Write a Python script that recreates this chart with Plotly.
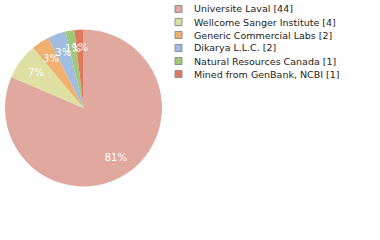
import plotly.graph_objects as go

labels = ["Universite Laval", "Wellcome Sanger Institute", "Generic Commercial Labs",
          "Dikarya L.L.C.", "Natural Resources Canada", "Mined from GenBank, NCBI"]
values = [44, 4, 2, 2, 1, 1]
colors = ["#e0a89e", "#dde0a0", "#f0b070", "#a0bce0", "#a0c878", "#e07860"]

total = sum(values)
pct_text = [f"{int(v * 100 // total)}%" for v in values]
big = [v / total > 0.5 for v in values]
text_big = [t if b else "" for t, b in zip(pct_text, big)]
text_small = [t if not b else "" for t, b in zip(pct_text, big)]

W, H = 380, 240
cx, cy, R = 83.5, 108, 78.5   # pie centre / radius in pixels
rt = 64                        # outer radius of the thin text ring

def dom(r):
    return dict(x=[(cx - r) / W, (cx + r) / W], y=[1 - (cy + r) / H, 1 - (cy - r) / H])

common = dict(labels=labels, values=values, sort=False, direction="clockwise",
              rotation=0, showlegend=False)
clear = dict(colors=["rgba(0,0,0,0)"] * len(values), line=dict(width=0))
tfont = dict(color="white", size=10, family="DejaVu Sans")

fig = go.Figure()
fig.add_trace(go.Pie(**common, textinfo="none",
                     marker=dict(colors=colors, line=dict(width=0)),
                     domain=dom(R), hoverinfo="label+value"))
# label ring for the large slice
fig.add_trace(go.Pie(**common, text=text_big, textinfo="text", hole=0.5,
                     marker=clear, textposition="inside",
                     insidetextorientation="horizontal", textfont=tfont,
                     domain=dom(R), hoverinfo="skip"))
# thin label ring for the small slices
fig.add_trace(go.Pie(**common, text=text_small, textinfo="text", hole=0.85,
                     marker=clear, textposition="inside",
                     insidetextorientation="horizontal", textfont=tfont,
                     domain=dom(rt), hoverinfo="skip"))

# legend built from the same lists
x0, y0, dy = 175, 9, 13
shapes, annots = [], []
for i, (lab, v, c) in enumerate(zip(labels, values, colors)):
    yc = y0 + i * dy
    shapes.append(dict(type="rect", xref="paper", yref="paper",
                       x0=x0/W, x1=(x0+7)/W, y0=1-(yc+3.5)/H, y1=1-(yc-3.5)/H,
                       fillcolor=c, line=dict(color="#909090", width=1)))
    annots.append(dict(xref="paper", yref="paper", x=192/W, y=1-yc/H,
                       xanchor="left", yanchor="middle", showarrow=False,
                       text=f"{lab} [{v}]",
                       font=dict(family="DejaVu Sans", size=9.5, color="#222222")))

fig.update_layout(width=W, height=H, margin=dict(l=0, r=0, t=0, b=0),
                  paper_bgcolor="white", plot_bgcolor="white",
                  shapes=shapes, annotations=annots,
                  uniformtext=dict(minsize=10, mode="show"))
fig.write_html("out.html")
